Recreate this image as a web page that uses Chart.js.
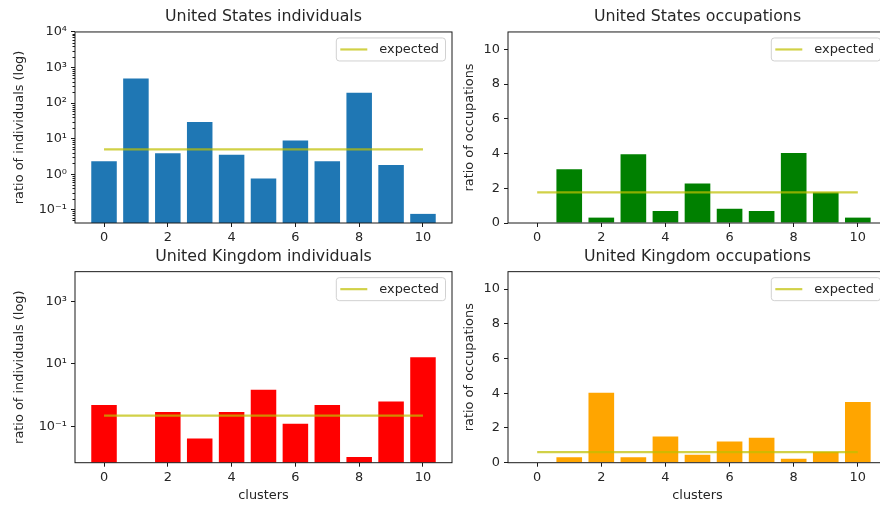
<!DOCTYPE html>
<html>
<head>
<meta charset="utf-8">
<script src="https://cdn.jsdelivr.net/npm/chart.js@4.4.1/dist/chart.umd.min.js"></script>
<style>
  html, body { margin: 0; padding: 0; background: #fff; width: 880px; height: 506px; overflow: hidden; position: relative; }
  canvas { position: absolute; }
</style>
</head>
<body>
<canvas id="usInd" width="460" height="253" style="left:0;top:0"></canvas>
<canvas id="usOcc" width="460" height="253" style="left:440px;top:0"></canvas>
<canvas id="ukInd" width="460" height="266" style="left:0;top:240px"></canvas>
<canvas id="ukOcc" width="460" height="266" style="left:440px;top:240px"></canvas>
<script>
// cluster ids on the x axis
const clusters = [0, 1, 2, 3, 4, 5, 6, 7, 8, 9, 10];
const xTicks = [0, 2, 4, 6, 8, 10];

// ratio of individuals per cluster (log scale panels)
const usIndividuals = [2.3, 490, 3.86, 29.5, 3.54, 0.757, 8.9, 2.3, 194, 1.82, 0.0765];
const usIndividualsExpected = 5.0;
const ukIndividuals = [0.475, 0, 0.284, 0.0408, 0.284, 1.47, 0.12, 0.475, 0.0103, 0.62, 16.0];
const ukIndividualsExpected = 0.217;

// ratio of occupations per cluster (linear panels)
const usOccupations = [0, 3.10, 0.31, 3.96, 0.69, 2.28, 0.82, 0.69, 4.03, 1.76, 0.31];
const usOccupationsExpected = 1.76;
const ukOccupations = [0, 0.31, 4.03, 0.31, 1.51, 0.46, 1.22, 1.43, 0.23, 0.61, 3.50];
const ukOccupationsExpected = 0.61;

// y tick values
const usLogTicks = [0.1, 1, 10, 100, 1000, 10000];
const ukLogTicks = [0.1, 10, 1000];
const linTicks = [0, 2, 4, 6, 8, 10];

const FONT = "'DejaVu Sans', 'Liberation Sans', sans-serif";
const TEXT = '#262626';
const EXPECTED_COLOR = 'rgba(191,191,0,0.72)';
const LABEL_SIZE = 12.9;
const TITLE_SIZE = 15.8;

const SUP = { '-': '\u207B', '0': '\u2070', '1': '\u00B9', '2': '\u00B2', '3': '\u00B3',
  '4': '\u2074', '5': '\u2075', '6': '\u2076', '7': '\u2077', '8': '\u2078', '9': '\u2079' };
function powLabel(v) {
  const e = Math.round(Math.log10(v));
  return '10' + String(e).split('').map(c => SUP[c]).join('');
}

// axes frame, legend box and minor log ticks
const decorPlugin = {
  id: 'decor',
  afterDatasetsDraw(chart) {
    const { ctx, chartArea: a } = chart;
    ctx.save();
    ctx.strokeStyle = '#1a1a1a';
    ctx.lineWidth = 1;
    ctx.strokeRect(a.left, a.top, a.right - a.left, a.bottom - a.top);

    // legend for the "expected" line
    const ds = chart.data.datasets.find(d => d.type === 'line');
    ctx.font = LABEL_SIZE + 'px ' + FONT;
    const tw = ctx.measureText(ds.label).width;
    const h = 23, w = 4 + 27 + 12 + tw + 6.5;
    const x0 = a.right - 6.5 - w, y0 = a.top + 6;
    ctx.beginPath();
    ctx.roundRect(x0, y0, w, h, 3);
    ctx.fillStyle = 'rgba(255,255,255,0.8)';
    ctx.fill();
    ctx.strokeStyle = 'rgba(204,204,204,0.9)';
    ctx.stroke();
    const cy = y0 + h / 2;
    ctx.beginPath();
    ctx.moveTo(x0 + 4, cy);
    ctx.lineTo(x0 + 31, cy);
    ctx.strokeStyle = ds.borderColor;
    ctx.lineWidth = ds.borderWidth;
    ctx.stroke();
    ctx.fillStyle = TEXT;
    ctx.textBaseline = 'middle';
    ctx.textAlign = 'left';
    ctx.fillText(ds.label, x0 + 43, cy + 0.5);

    // minor ticks on a log axis
    const y = chart.scales.y;
    if (y.type === 'logarithmic' && chart.options.minorLogTicks) {
      ctx.strokeStyle = '#1a1a1a';
      ctx.lineWidth = 1;
      for (let e = Math.floor(Math.log10(y.min)); e <= Math.ceil(Math.log10(y.max)); e++) {
        for (let m = 2; m <= 9; m++) {
          const v = m * Math.pow(10, e);
          if (v < y.min || v > y.max) continue;
          const py = Math.round(y.getPixelForValue(v)) + 0.5;
          ctx.beginPath();
          ctx.moveTo(a.left - 2.5, py);
          ctx.lineTo(a.left, py);
          ctx.stroke();
        }
      }
    }
    ctx.restore();
  }
};

function makeChart(id, cfg) {
  const xScale = {
    type: 'linear',
    min: -0.91, max: 10.91,
    offset: false,
    afterBuildTicks: s => { s.ticks = xTicks.map(v => ({ value: v })); },
    afterFit: s => { s.height = cfg.xHeight; },
    grid: { display: true, offset: false, drawOnChartArea: false, drawTicks: true, tickLength: 4, tickColor: '#1a1a1a' },
    border: { display: false },
    ticks: { color: TEXT, font: { family: FONT, size: LABEL_SIZE }, padding: 3, maxRotation: 0, callback: v => String(v) },
    title: cfg.xTitle ? { display: true, text: cfg.xTitle, color: TEXT, font: { family: FONT, size: LABEL_SIZE }, padding: { top: 0, bottom: 2.2 } } : { display: false }
  };
  const yTicks = cfg.yTicks;
  const yScale = {
    type: cfg.log ? 'logarithmic' : 'linear',
    min: cfg.yMin, max: cfg.yMax,
    afterBuildTicks: s => { s.ticks = yTicks.map(v => ({ value: v })); },
    afterFit: s => { s.width = cfg.yWidth; },
    grid: { display: true, drawOnChartArea: false, drawTicks: true, tickLength: 4, tickColor: '#1a1a1a' },
    border: { display: false },
    ticks: { color: TEXT, font: { family: FONT, size: LABEL_SIZE }, padding: 4,
      callback: v => cfg.log ? powLabel(v) : String(v) },
    title: { display: true, text: cfg.yTitle, color: TEXT, font: { family: FONT, size: LABEL_SIZE }, padding: { top: cfg.yTitlePad, bottom: 0 } }
  };
  return new Chart(document.getElementById(id), {
    type: 'bar',
    data: {
      datasets: [
        {
          type: 'line',
          label: 'expected',
          data: [{ x: clusters[0], y: cfg.expected }, { x: clusters[clusters.length - 1], y: cfg.expected }],
          borderColor: EXPECTED_COLOR,
          borderWidth: 2.2,
          pointRadius: 0,
          order: 0
        },
        {
          type: 'bar',
          label: cfg.title,
          data: clusters.map((c, i) => ({ x: c, y: cfg.values[i] })),
          backgroundColor: cfg.color,
          borderWidth: 0,
          barPercentage: 0.8,
          categoryPercentage: 1.0,
          order: 1
        }
      ]
    },
    options: {
      responsive: false,
      animation: false,
      devicePixelRatio: 1,
      minorLogTicks: !!cfg.minor,
      layout: { padding: { left: 0, top: 0, right: cfg.padRight, bottom: 0 } },
      plugins: {
        legend: { display: false },
        tooltip: { enabled: false },
        title: {
          display: true, text: cfg.title, fullSize: false, color: TEXT,
          font: { family: FONT, size: TITLE_SIZE, weight: 'normal' },
          padding: { top: cfg.titleTop, bottom: cfg.titleBottom }
        }
      },
      scales: { x: xScale, y: yScale }
    },
    plugins: [decorPlugin]
  });
}

makeChart('usInd', {
  title: 'United States individuals', values: usIndividuals, expected: usIndividualsExpected,
  color: '#1f77b4', log: true, minor: true, yMin: 0.0424, yMax: 10000, yTicks: usLogTicks,
  yTitle: 'ratio of individuals (log)', yWidth: 75, yTitlePad: 12.2, padRight: 8,
  titleTop: 7.0, titleBottom: 6.0, xHeight: 30
});
makeChart('usOcc', {
  title: 'United States occupations', values: usOccupations, expected: usOccupationsExpected,
  color: '#008000', log: false, yMin: 0, yMax: 11, yTicks: linTicks,
  yTitle: 'ratio of occupations', yWidth: 68, yTitlePad: 21.5, padRight: 13,
  titleTop: 7.0, titleBottom: 6.0, xHeight: 30
});
makeChart('ukInd', {
  title: 'United Kingdom individuals', values: ukIndividuals, expected: ukIndividualsExpected,
  color: '#ff0000', log: true, minor: false, yMin: 0.0068, yMax: 8800, yTicks: ukLogTicks,
  yTitle: 'ratio of individuals (log)', yWidth: 75, yTitlePad: 12.2, padRight: 8,
  titleTop: 7.2, titleBottom: 5.5, xHeight: 43.3, xTitle: 'clusters'
});
makeChart('ukOcc', {
  title: 'United Kingdom occupations', values: ukOccupations, expected: ukOccupationsExpected,
  color: '#ffa500', log: false, yMin: 0, yMax: 11, yTicks: linTicks,
  yTitle: 'ratio of occupations', yWidth: 68, yTitlePad: 21.5, padRight: 13,
  titleTop: 7.2, titleBottom: 5.5, xHeight: 43.3, xTitle: 'clusters'
});
</script>
</body>
</html>
